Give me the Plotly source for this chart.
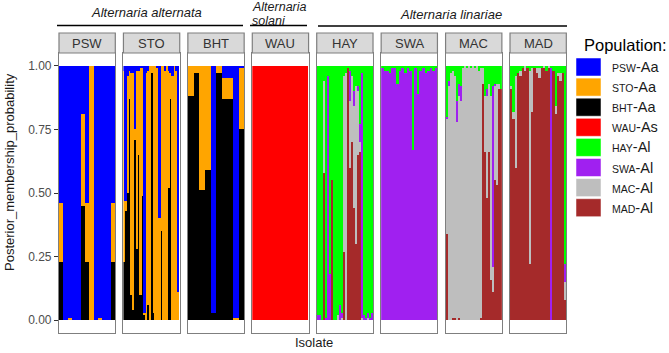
import plotly.graph_objects as go

W, H = 669, 353

# ---------------- data ----------------
POPULATIONS = ["PSW", "STO", "BHT", "WAU", "HAY", "SWA", "MAC", "MAD"]
CLUSTERS = ["PSW", "STO", "BHT", "WAU", "HAY", "SWA", "MAC", "MAD"]
CLUSTER_SUFFIX = ["-Aa", "-Aa", "-Aa", "-As", "-Al", "-Al", "-Al", "-Al"]
CLUSTER_COLORS = ["#0000FF", "#FFA500", "#000000", "#FF0000",
                  "#00FF00", "#A020F0", "#BEBEBE", "#A52A2A"]

SPECIES = ["Alternaria alternata", "Alternaria solani", "Alternaria linariae"]

# posterior membership per isolate, keyed by cluster (only non-zero clusters)
Q_PSW = {
    "PSW": [0.54, 1.00, 0.99, 1.00, 1.00, 0.19, 0.54, 0.00, 1.00, 0.99, 1.00, 1.00, 0.54],
    "STO": [0.23, 0.00, 0.01, 0.00, 0.00, 0.36, 0.23, 1.00, 0.00, 0.01, 0.00, 0.00, 0.23],
    "BHT": [0.23, 0.00, 0.00, 0.00, 0.00, 0.45, 0.23, 0.00, 0.00, 0.00, 0.00, 0.00, 0.23],
}
Q_STO = {
    "PSW": [0.02, 0.53, 0.04, 0.02, 0.03, 0.03, 0.25, 0.02, 0.02, 0.01, 0.01, 0.97, 0.03, 0.02, 0.00,
            0.00, 0.00, 0.00, 0.01, 0.60, 0.00, 0.00, 0.02, 0.00, 0.02, 0.03, 0.04, 0.00, 0.02, 0.89],
    "STO": [0.75, 0.04, 0.46, 0.11, 0.87, 0.93, 0.04, 0.70, 0.33, 0.89, 0.50, 0.01, 0.97, 0.92, 1.00,
            0.03, 0.97, 1.00, 0.99, 0.40, 0.65, 1.00, 0.98, 1.00, 0.46, 0.10, 0.96, 1.00, 0.98, 0.11],
    "BHT": [0.23, 0.43, 0.50, 0.87, 0.10, 0.04, 0.71, 0.28, 0.65, 0.10, 0.49, 0.02, 0.00, 0.06, 0.00,
            0.97, 0.03, 0.00, 0.00, 0.00, 0.35, 0.00, 0.00, 0.00, 0.52, 0.87, 0.00, 0.00, 0.00, 0.00],
}
Q_BHT = {
    "PSW": [0.00, 0.00, 0.00, 0.00, 0.97, 0.00, 0.05, 0.05, 0.99, 0.01],
    "STO": [0.12, 0.03, 0.49, 0.41, 0.00, 0.03, 0.08, 0.08, 0.01, 0.24],
    "BHT": [0.88, 0.97, 0.51, 0.59, 0.03, 0.97, 0.87, 0.87, 0.00, 0.75],
}
Q_WAU = {
    "WAU": [1.00, 1.00, 1.00, 1.00, 1.00, 1.00, 1.00, 1.00, 1.00, 1.00],
}
Q_HAY = {
    "HAY": [0.98, 0.98, 1.00, 0.06, 0.99, 0.04, 0.82, 0.45, 1.00, 1.00, 0.98, 0.94, 0.97, 0.04,
            0.03, 0.01, 0.02, 0.04, 0.10, 0.08, 0.08, 0.23, 0.03, 0.98, 0.99, 0.97, 0.99, 0.97],
    "SWA": [0.02, 0.02, 0.00, 0.00, 0.01, 0.96, 0.18, 0.00, 0.00, 0.00, 0.00, 0.06, 0.02, 0.00,
            0.00, 0.00, 0.12, 0.00, 0.06, 0.00, 0.02, 0.07, 0.96, 0.02, 0.01, 0.02, 0.01, 0.03],
    "MAC": [0.00, 0.00, 0.00, 0.36, 0.00, 0.00, 0.00, 0.00, 0.00, 0.00, 0.02, 0.00, 0.01, 0.69,
            0.97, 0.00, 0.26, 0.26, 0.40, 0.62, 0.25, 0.04, 0.01, 0.00, 0.00, 0.01, 0.00, 0.00],
    "MAD": [0.00, 0.00, 0.00, 0.58, 0.00, 0.00, 0.00, 0.55, 0.00, 0.00, 0.00, 0.00, 0.00, 0.27,
            0.00, 0.99, 0.60, 0.70, 0.44, 0.30, 0.65, 0.66, 0.00, 0.00, 0.00, 0.00, 0.00, 0.00],
}
Q_SWA = {
    "HAY": [0.01, 0.02, 0.02, 0.03, 0.01, 0.01, 0.07, 0.02, 0.01, 0.03, 0.01,
            0.02, 0.33, 0.01, 0.11, 0.02, 0.01, 0.03, 0.02, 0.01, 0.02, 0.01],
    "SWA": [0.99, 0.98, 0.98, 0.97, 0.99, 0.99, 0.93, 0.98, 0.99, 0.97, 0.99,
            0.98, 0.67, 0.99, 0.89, 0.98, 0.99, 0.97, 0.98, 0.99, 0.98, 0.99],
}
Q_MAC = {
    "HAY": [0.20, 0.06, 0.03, 0.02, 0.04, 0.14, 0.07, 0.08, 0.01, 0.00, 0.01, 0.00, 0.01, 0.00,
            0.01, 0.00, 0.02, 0.01, 0.01, 0.12, 0.09, 0.07, 0.12, 0.08, 0.07, 0.07, 0.07, 0.09],
    "SWA": [0.01, 0.02, 0.00, 0.00, 0.00, 0.08, 0.05, 0.06, 0.00, 0.00, 0.00, 0.00, 0.00, 0.00,
            0.00, 0.00, 0.00, 0.00, 0.00, 0.00, 0.03, 0.00, 0.00, 0.71, 0.01, 0.00, 0.00, 0.00],
    "MAC": [0.45, 0.92, 0.97, 0.97, 0.95, 0.78, 0.87, 0.86, 0.99, 1.00, 0.99, 1.00, 0.99, 1.00,
            0.99, 1.00, 0.98, 0.98, 0.06, 0.22, 0.40, 0.27, 0.72, 0.10, 0.37, 0.40, 0.02, 0.00],
    "MAD": [0.34, 0.00, 0.00, 0.01, 0.01, 0.00, 0.01, 0.00, 0.00, 0.00, 0.00, 0.00, 0.00, 0.00,
            0.00, 0.00, 0.00, 0.01, 0.93, 0.66, 0.48, 0.66, 0.16, 0.11, 0.55, 0.53, 0.91, 0.91],
}
Q_MAD = {
    "HAY": [0.08, 0.18, 0.04, 0.03, 0.02, 0.01, 0.00, 0.01, 0.02, 0.01, 0.01, 0.01,
            0.01, 0.01, 0.00, 0.02, 0.00, 0.01, 0.02, 0.16, 0.03, 0.03, 0.03, 0.78],
    "SWA": [0.00, 0.00, 0.00, 0.00, 0.00, 0.00, 0.00, 0.00, 0.00, 0.00, 0.00, 0.00,
            0.00, 0.00, 0.00, 0.00, 0.00, 0.99, 0.00, 0.00, 0.00, 0.00, 0.00, 0.07],
    "MAC": [0.01, 0.03, 0.36, 0.00, 0.02, 0.00, 0.02, 0.00, 0.76, 0.17, 0.00, 0.02,
            0.04, 0.00, 0.01, 0.00, 0.01, 0.00, 0.00, 0.03, 0.01, 0.03, 0.00, 0.07],
    "MAD": [0.91, 0.79, 0.60, 0.97, 0.96, 0.99, 0.98, 0.99, 0.22, 0.82, 0.99, 0.97,
            0.95, 0.99, 0.99, 0.98, 0.99, 0.00, 0.98, 0.81, 0.96, 0.94, 0.97, 0.08],
}
Q_BY_POP = [Q_PSW, Q_STO, Q_BHT, Q_WAU, Q_HAY, Q_SWA, Q_MAC, Q_MAD]

Y_TICKS = [0.00, 0.25, 0.50, 0.75, 1.00]
Y_TICKTEXT = ["0.00", "0.25", "0.50", "0.75", "1.00"]

# ---------------- layout geometry (pixels) ----------------
PANEL_LEFT = 59.0
PANEL_STEP = 64.43
PANEL_W = 56.3
PANEL_TOP, PANEL_BOTTOM = 53.0, 333.0
STRIP_TOP = 33.0
FONT = "Liberation Sans, Arial, sans-serif"


def px(x):
    return x / W


def py(y):
    return 1 - y / H


fig = go.Figure()
layout = {}
shapes = []
annotations = []

for k, (pop, q) in enumerate(zip(POPULATIONS, Q_BY_POP)):
    idx = k + 1
    xa = "x" if idx == 1 else f"x{idx}"
    ya = "y" if idx == 1 else f"y{idx}"
    n = len(next(iter(q.values())))
    xs = list(range(n))
    # stack bottom -> top: last cluster at bottom
    for ci in range(len(CLUSTERS) - 1, -1, -1):
        cl = CLUSTERS[ci]
        if cl not in q:
            continue
        fig.add_trace(go.Bar(
            x=xs, y=q[cl], width=1.0, xaxis=xa, yaxis=ya,
            marker=dict(color=CLUSTER_COLORS[ci], line=dict(width=0)),
            showlegend=False, hoverinfo="skip",
        ))
    x0 = PANEL_LEFT + k * PANEL_STEP
    x1 = x0 + PANEL_W
    layout["xaxis" if idx == 1 else f"xaxis{idx}"] = dict(
        domain=[px(x0), px(x1)], range=[-0.5, n - 0.5], anchor=ya,
        showticklabels=False, ticks="", showgrid=False, zeroline=False,
        showline=True, mirror=True, linecolor="#7f7f7f", linewidth=1.2,
    )
    yax = dict(
        domain=[py(PANEL_BOTTOM), py(PANEL_TOP)], range=[-0.05, 1.05], anchor=xa,
        showgrid=False, zeroline=False, showline=True, mirror=True,
        linecolor="#7f7f7f", linewidth=1.2,
    )
    if idx == 1:
        yax.update(tickvals=Y_TICKS, ticktext=Y_TICKTEXT, ticks="outside",
                   ticklen=4, tickwidth=1, tickcolor="#333333",
                   tickfont=dict(family=FONT, size=12, color="#4d4d4d"))
    else:
        yax.update(showticklabels=False, ticks="")
    layout["yaxis" if idx == 1 else f"yaxis{idx}"] = yax

    # facet strip
    shapes.append(dict(type="rect", xref="paper", yref="paper",
                       x0=px(x0), x1=px(x1), y0=py(PANEL_TOP), y1=py(STRIP_TOP),
                       fillcolor="#d9d9d9", line=dict(color="#7f7f7f", width=1.2)))
    annotations.append(dict(text=pop, xref="paper", yref="paper",
                            x=px((x0 + x1) / 2), y=py((STRIP_TOP + PANEL_TOP) / 2),
                            xanchor="center", yanchor="middle", showarrow=False,
                            font=dict(family=FONT, size=13, color="#333333")))

# species headers
shapes += [
    dict(type="line", xref="paper", yref="paper", x0=px(57), x1=px(243), y0=py(25.5), y1=py(25.5),
         line=dict(color="black", width=1.5)),
    dict(type="line", xref="paper", yref="paper", x0=px(250), x1=px(307), y0=py(25.5), y1=py(25.5),
         line=dict(color="black", width=1.5)),
    dict(type="line", xref="paper", yref="paper", x0=px(318), x1=px(567), y0=py(26), y1=py(26),
         line=dict(color="black", width=1.5)),
]
sp_font = dict(family=FONT, size=13, color="#1a1a1a")
sp_font_small = dict(family=FONT, size=12.5, color="#1a1a1a")
annotations += [
    dict(text=f"<i>{SPECIES[0]}</i>", xref="paper", yref="paper", x=px(146), y=py(13),
         xanchor="center", yanchor="middle", showarrow=False, font=sp_font),
    dict(text=f"<i>{SPECIES[1].split()[0]}</i>", xref="paper", yref="paper", x=px(251), y=py(7),
         xanchor="left", yanchor="middle", showarrow=False, font=sp_font_small, borderpad=0),
    dict(text=f"<i>{SPECIES[1].split()[1]}</i>", xref="paper", yref="paper", x=px(251), y=py(21),
         xanchor="left", yanchor="middle", showarrow=False, font=sp_font_small, borderpad=0),
    dict(text=f"<i>{SPECIES[2]}</i>", xref="paper", yref="paper", x=px(451), y=py(14),
         xanchor="center", yanchor="middle", showarrow=False, font=sp_font),
]

# axis titles
annotations += [
    dict(text="Isolate", xref="paper", yref="paper", x=px(314), y=py(342),
         xanchor="center", yanchor="middle", showarrow=False,
         font=dict(family=FONT, size=13, color="#1a1a1a")),
    dict(text="Posterior_membership_probability", xref="paper", yref="paper",
         x=px(10), y=py(172), textangle=-90, xanchor="center", yanchor="middle",
         showarrow=False, font=dict(family=FONT, size=13, color="#1a1a1a")),
]

# legend (manual, keyed squares)
annotations.append(dict(text="Population:", xref="paper", yref="paper", x=px(582), y=py(45),
                        xanchor="left", yanchor="middle", showarrow=False,
                        font=dict(family=FONT, size=16.5, color="#000000")))
for i, (cl, suf, col) in enumerate(zip(CLUSTERS, CLUSTER_SUFFIX, CLUSTER_COLORS)):
    top = 58 + i * 20.1
    shapes.append(dict(type="rect", xref="paper", yref="paper",
                       x0=px(576), x1=px(601), y0=py(top + 18), y1=py(top),
                       fillcolor=col, line=dict(color="#ffffff", width=0.5)))
    annotations.append(dict(text=f"<span style='font-size:10.5px'>{cl}</span>{suf}",
                            xref="paper", yref="paper", x=px(610), y=py(top + 9),
                            xanchor="left", yanchor="middle", showarrow=False,
                            font=dict(family=FONT, size=14.5, color="#1a1a1a")))

fig.update_layout(
    width=W, height=H, margin=dict(l=0, r=0, t=0, b=0),
    paper_bgcolor="white", plot_bgcolor="white",
    barmode="stack", bargap=0, showlegend=False,
    shapes=shapes, annotations=annotations,
    **layout,
)

fig.write_html(
    "out.html",
    config={"displayModeBar": False},
    post_script="document.body.style.margin='0';document.body.style.padding='0';",
)
